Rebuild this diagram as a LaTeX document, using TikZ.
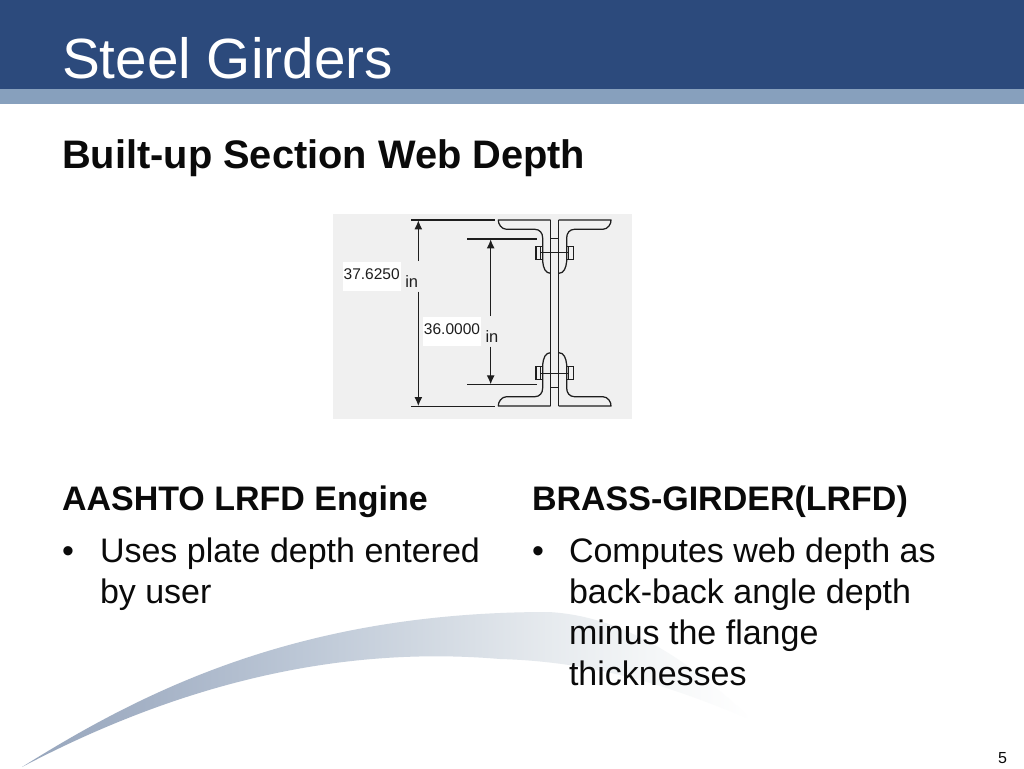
\documentclass[tikz,border=0pt]{standalone}
\usepackage{fontspec}
\setmainfont{Liberation Sans}
\usetikzlibrary{arrows.meta}
\definecolor{hdr}{HTML}{2C4A7C}
\definecolor{bandc}{HTML}{87A0BD}
\definecolor{ink}{HTML}{0A0A0A}
\definecolor{panel}{HTML}{F0F0F0}
\definecolor{lineink}{HTML}{1E1E1E}
\definecolor{swA}{HTML}{97A6BD}
\definecolor{swB}{HTML}{A5B2C6}
\definecolor{swC}{HTML}{BCC7D6}
\definecolor{swD}{HTML}{D5DCE4}
\definecolor{swE}{HTML}{E6EAEE}
\definecolor{swF}{HTML}{F4F6F7}
\pgfdeclarehorizontalshading{swooshshade}{100bp}{
  color(0bp)=(swA); color(25bp)=(swA); color(33.75bp)=(swB); color(44bp)=(swC); color(54.3bp)=(swD); color(61bp)=(swE); color(68bp)=(swF); color(75bp)=(white); color(100bp)=(white)}
\tikzset{
  txt/.style={anchor=base west,inner sep=0pt,outer sep=0pt,text=ink},
  titletxt/.style={txt,text=white,font=\fontsize{56.7}{56.7}\selectfont},
  headtxt/.style={txt,font=\bfseries\fontsize{39.8}{40}\selectfont},
  subhead/.style={txt,font=\bfseries\fontsize{34}{34}\selectfont},
  bodytxt/.style={txt,font=\fontsize{34}{34}\selectfont},
  dimtxt/.style={inner sep=0pt,text=lineink,font=\fontsize{16.5}{16.5}\selectfont},
  valbox/.style={fill=white,inner sep=0pt,minimum width=58pt,minimum height=29pt,text height=11pt,text depth=4pt,text=lineink,font=\fontsize{15.5}{15.5}\selectfont},
  draft/.style={draw=lineink,line width=1.25pt},
  dimarrow/.style={draft,-{Latex[length=9pt,width=8pt]}},
}
\begin{document}
\begin{tikzpicture}[x=1pt,y=-1pt]
\useasboundingbox (0,0) rectangle (1024,768);
\fill[white] (0,0) rectangle (1024,768);
\fill[hdr] (0,0) rectangle (1024,89);
\fill[bandc] (0,89) rectangle (1024,104);
% swoosh
\shade[shading=swooshshade]
  (22,767) .. controls (145,690) and (300,612) .. (548,612)
  .. controls (630,616) and (700,670) .. (752,720)
  .. controls (690,695) and (610,662) .. (500,659)
  .. controls (370,648) and (210,668) .. (22,767) -- cycle;
\node[titletxt] (title) at (62,78) {Steel Girders};
\node[headtxt] (head) at (62,168) {Built-up Section Web Depth};
\node[subhead] (lh) at (62,510.5) {AASHTO LRFD Engine};
\node[bodytxt] (lb) at (62,562.5) {•};
\node[bodytxt] (l1) at (100,562.5) {Uses plate depth entered};
\node[bodytxt] (l2) at (100,603) {by user};
\node[subhead] (rh) at (532,510.5) {BRASS-GIRDER(LRFD)};
\node[bodytxt] (rb) at (532,562.5) {•};
\node[bodytxt] (r1) at (569,562.5) {Computes web depth as};
\node[bodytxt] (r2) at (569,603) {back-back angle depth};
\node[bodytxt] (r3) at (569,644) {minus the flange};
\node[bodytxt] (r4) at (569,685) {thicknesses};
\node[txt,font=\fontsize{16}{16}\selectfont] (pg) at (998,763) {5};
% section figure
\fill[panel] (333,214) rectangle (632,419);
\begin{scope}[shift={(330,210)},x=0.33333pt,y=-0.33333pt]
  \foreach \sx in {-1,1}{\foreach \sy in {-1,1}{
    \begin{scope}[shift={(674,309)},xscale=\sx,yscale=\sy]
      \draw[draft,line join=round] (12,279) -- (169,279) .. controls (170,268) and (160,251) .. (144,251)
        -- (59,251) .. controls (45,251) and (36,240) .. (36,225) -- (36,155)
        .. controls (34,135) and (28,119) .. (12,119);
      \draw[draft] (36,161) rectangle (56,199);
      \draw[draft] (42,161) -- (42,199);
      \draw[draft] (0,181) -- (42,181);
      \draw[draft] (0,224) -- (12,224);
    \end{scope}
  }}
  \draw[draft] (662,30) -- (662,589);
  \draw[draft] (686,30) -- (686,589);
  % dimension extension lines
  \coordinate (a1) at (243,30);  \coordinate (a2) at (495,30);
  \coordinate (b1) at (243,589); \coordinate (b2) at (495,589);
  \coordinate (c1) at (412,87);  \coordinate (c2) at (620,87);
  \coordinate (d1) at (412,524); \coordinate (d2) at (620,524);
  \draw[draft] (a1) -- (a2);
  \draw[draft] (b1) -- (b2);
  \draw[draft] (c1) -- (c2);
  \draw[draft] (d1) -- (d2);
  \coordinate (e1) at (265,31);  \coordinate (e2) at (265,588);
  \coordinate (f1) at (482,88);  \coordinate (f2) at (482,523);
  \node[valbox] (v1) at (125,198) {37.6250};
  \node[valbox] (v2) at (366,363) {36.0000};
  \node[dimtxt] (u1) at (245,215) {in};
  \node[dimtxt] (u2) at (486,381) {in};
  \coordinate (e3) at (265,153); \coordinate (e4) at (265,245);
  \coordinate (f3) at (482,318); \coordinate (f4) at (482,410);
  \draw[dimarrow] (e3) -- (e1);
  \draw[dimarrow] (e4) -- (e2);
  \draw[dimarrow] (f3) -- (f1);
  \draw[dimarrow] (f4) -- (f2);
\end{scope}
\end{tikzpicture}
\end{document}
